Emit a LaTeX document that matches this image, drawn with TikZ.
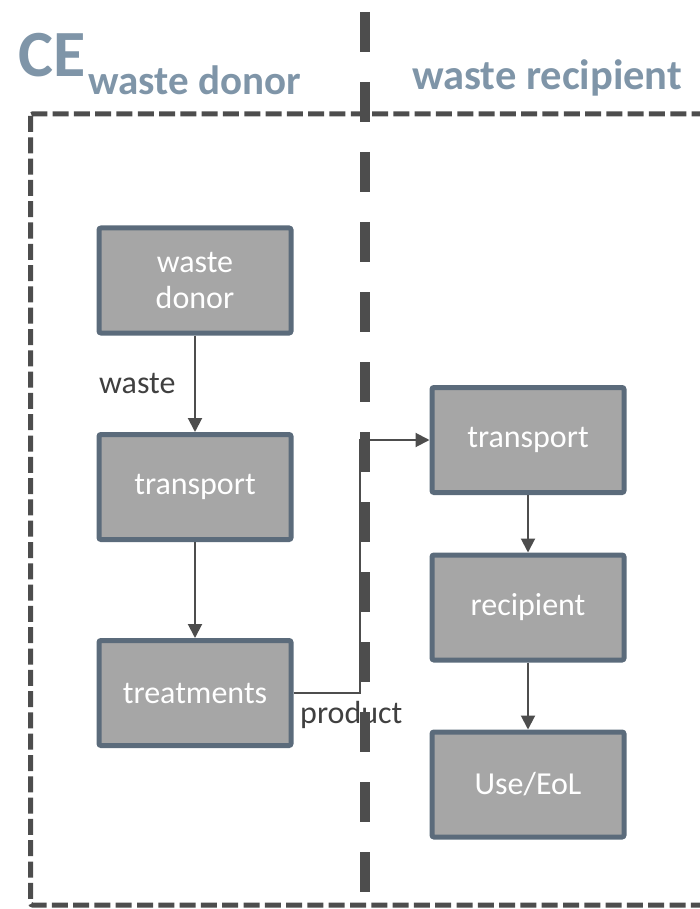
\documentclass[tikz,border=0pt]{standalone}
\usepackage{fontspec}
\setmainfont{Carlito}
\usetikzlibrary{arrows.meta}
\definecolor{boxfill}{HTML}{A6A6A6}
\definecolor{boxline}{HTML}{5B6B7B}
\definecolor{darkline}{HTML}{4D4D4D}
\definecolor{headblue}{HTML}{7F95A8}
\definecolor{labeltext}{HTML}{404040}
\begin{document}
\begin{tikzpicture}[x=1pt, y=-1pt, inner sep=0pt,
    proc/.style={draw=boxline, fill=boxfill, line width=5pt, rounded corners=2pt,
      minimum width=192pt, minimum height=105pt, text=white, align=center,
      font=\fontsize{32pt}{36pt}\selectfont},
    flow/.style={draw=darkline, line width=2pt, -{Triangle[length=14pt,width=14pt]}},
    lbl/.style={anchor=base west, text=labeltext, font=\fontsize{32pt}{36pt}\selectfont},
    head/.style={anchor=base west, text=headblue, font=\bfseries\fontsize{41pt}{46pt}\selectfont}]
  \useasboundingbox (0,0) rectangle (700,909);
  \draw[darkline, line width=5pt, dash pattern=on 16pt off 5.3pt, rounded corners=2pt] (30.5,114) rectangle (720,905);
  \node[head, font=\bfseries\fontsize{66pt}{70pt}\selectfont] (ce) at (18,77) {CE};
  \node[head] (donorhead) at (88,95) {waste donor};
  \node[head, font=\bfseries\fontsize{42.5pt}{46pt}\selectfont] (reciphead) at (412,90) {waste recipient};
  \node[proc] (donor) at (195,280.5) {waste\\donor};
  \node[proc] (trans1) at (195,487) {transport};
  \node[proc] (treat) at (195,693) {treatments};
  \node[proc] (trans2) at (528,440) {transport};
  \node[proc] (recip) at (528,607.5) {recipient};
  \node[proc] (eol) at (528,784.5) {Use/EoL};
  \node[lbl] (wastelbl) at (99,393) {waste};
  \node[lbl] (productlbl) at (300,723) {product};
  \draw[darkline, line width=10pt, dash pattern=on 40pt off 30pt] (364.5,12) -- (364.5,892);
  \coordinate (bend) at (360,693);
  \draw[flow] (donor) -- (trans1);
  \draw[flow] (trans1) -- (treat);
  \draw[flow] (treat.east) -- (bend) |- (trans2.west);
  \draw[flow] (trans2) -- (recip);
  \draw[flow] (recip) -- (eol);
\end{tikzpicture}
\end{document}
